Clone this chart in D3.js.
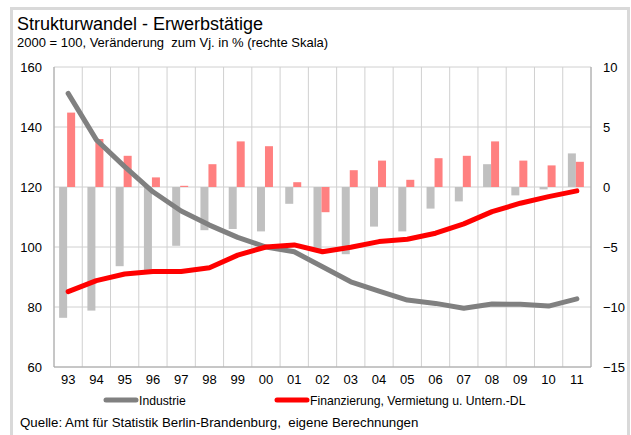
<!DOCTYPE html>
<html lang="de">
<head>
<meta charset="utf-8">
<script src="https://d3js.org/d3.v7.min.js"></script>
<style>
  body { margin: 0; background: #fff; }
  svg text { font-family: "Liberation Sans", Arial, sans-serif; fill: #000; white-space: pre; }
</style>
</head>
<body>
<div id="chart"></div>
<script>

var years = ["93","94","95","96","97","98","99","00","01","02","03","04","05","06","07","08","09","10","11"];

// Index 2000 = 100 (left axis)
var industrieIdx = [151.2,135.7,126.8,118.4,112,107.3,103.2,100,98.4,93.4,88.4,85.3,82.3,81.2,79.6,81,80.9,80.3,82.7];
var finanzIdx    = [85.1,88.8,91,91.8,91.8,93.1,97.3,100,100.7,98.4,99.9,101.8,102.6,104.6,107.7,111.8,114.6,116.8,118.7];

// change to previous year in % (right axis)
var industrieChg = [-10.9,-10.3,-6.6,-7.0,-4.9,-3.6,-3.5,-3.7,-1.4,-5.25,-5.6,-3.3,-3.7,-1.8,-1.2,1.9,-0.7,-0.2,2.8];
var finanzChg    = [6.2,4.0,2.6,0.8,0.1,1.9,3.8,3.4,0.4,-2.1,1.4,2.2,0.6,2.4,2.6,3.8,2.2,1.8,2.1];

var leftTicks = [60,80,100,120,140,160];
var rightTicks = [-15,-10,-5,0,5,10];

var w = 631, h = 435;
var pLeft = 54, pRight = 591, pTop = 67, pBottom = 367;

var svg = d3.select("#chart").append("svg")
  .attr("width", w).attr("height", h);

// outer frame
svg.append("rect")
  .attr("x", 11.5).attr("y", 8.5)
  .attr("width", 617).attr("height", 440)
  .attr("fill", "none")
  .attr("stroke", "#d9d9d9")
  .attr("stroke-width", 3);

svg.append("text").attr("x", 17).attr("y", 30)
  .style("font-size", "18px")
  .text("Strukturwandel - Erwerbstätige");
svg.append("text").attr("x", 17).attr("y", 47)
  .style("font-size", "13px")
  .text("2000 = 100, Veränderung  zum Vj. in % (rechte Skala)");

var x = d3.scaleBand().domain(years).range([pLeft, pRight]);
var yL = d3.scaleLinear().domain([60,160]).range([pBottom, pTop]);
var yR = d3.scaleLinear().domain([-15,10]).range([pBottom, pTop]);

// grid
svg.selectAll("line.hgrid").data(leftTicks).enter().append("line")
  .attr("x1", pLeft).attr("x2", pRight)
  .attr("y1", function(d){ return yL(d); }).attr("y2", function(d){ return yL(d); })
  .attr("stroke", "#d0d0d0").attr("stroke-width", 1);
svg.selectAll("line.vgrid").data(years.concat(["end"])).enter().append("line")
  .attr("x1", function(d,i){ return pLeft + i*x.step(); })
  .attr("x2", function(d,i){ return pLeft + i*x.step(); })
  .attr("y1", pTop).attr("y2", pBottom)
  .attr("stroke", "#d0d0d0").attr("stroke-width", 1);

// bars
var bw = 8;
svg.selectAll("rect.ind").data(industrieChg).enter().append("rect")
  .attr("x", function(d,i){ return x(years[i]) + x.bandwidth()/2 - bw - 1; })
  .attr("width", bw)
  .attr("y", function(d){ return Math.min(yR(d), yR(0)); })
  .attr("height", function(d){ return Math.abs(yR(d) - yR(0)); })
  .attr("fill", "#c0c0c0");
svg.selectAll("rect.fin").data(finanzChg).enter().append("rect")
  .attr("x", function(d,i){ return x(years[i]) + x.bandwidth()/2 - 1; })
  .attr("width", bw)
  .attr("y", function(d){ return Math.min(yR(d), yR(0)); })
  .attr("height", function(d){ return Math.abs(yR(d) - yR(0)); })
  .attr("fill", "#ff8080");

// lines
var line = d3.line()
  .x(function(d,i){ return x(years[i]) + x.bandwidth()/2; })
  .y(function(d){ return yL(d); });

svg.append("path").datum(industrieIdx)
  .attr("d", line).attr("fill", "none")
  .attr("stroke", "#808080").attr("stroke-width", 5)
  .attr("stroke-linejoin", "round").attr("stroke-linecap", "round");
svg.append("path").datum(finanzIdx)
  .attr("d", line).attr("fill", "none")
  .attr("stroke", "#ff0000").attr("stroke-width", 5)
  .attr("stroke-linejoin", "round").attr("stroke-linecap", "round");

// axes
var axL = svg.append("g").attr("transform", "translate(42,0)")
  .call(d3.axisLeft(yL).tickValues(leftTicks).tickSize(0).tickPadding(0));
var axR = svg.append("g").attr("transform", "translate(603,0)")
  .call(d3.axisRight(yR).tickValues(rightTicks).tickSize(0).tickPadding(0));
var axB = svg.append("g").attr("transform", "translate(0," + pBottom + ")")
  .call(d3.axisBottom(x).tickSize(0).tickPadding(8));
[axL, axR, axB].forEach(function(a){
  a.select(".domain").remove();
  a.selectAll("text").style("font-size", "13px").attr("fill", "#000")
    .style("font-family", "'Liberation Sans', Arial, sans-serif");
});

svg.append("line").attr("x1", pLeft).attr("x2", pLeft).attr("y1", pTop).attr("y2", pBottom)
  .attr("stroke", "#a6a6a6");
svg.append("line").attr("x1", pRight).attr("x2", pRight).attr("y1", pTop).attr("y2", pBottom)
  .attr("stroke", "#a6a6a6");
svg.append("line").attr("x1", pLeft).attr("x2", pRight).attr("y1", pBottom).attr("y2", pBottom)
  .attr("stroke", "#a6a6a6");

// legend
var legend = [
  {name: "Industrie", color: "#808080", x: 106},
  {name: "Finanzierung, Vermietung u. Untern.-DL", color: "#ff0000", x: 277}
];
var lg = svg.selectAll("g.legend").data(legend).enter().append("g")
  .attr("transform", function(d){ return "translate(" + d.x + ",400)"; });
lg.append("line").attr("x1", 0).attr("x2", 30).attr("y1", 0).attr("y2", 0)
  .attr("stroke", function(d){ return d.color; }).attr("stroke-width", 5)
  .attr("stroke-linecap", "round");
lg.append("text").attr("x", 33).attr("y", 4.5)
  .style("font-size", "12.2px")
  .text(function(d){ return d.name; });

svg.append("text").attr("x", 20).attr("y", 427)
  .style("font-size", "13.3px")
  .text("Quelle: Amt für Statistik Berlin-Brandenburg,  eigene Berechnungen");

</script>
</body>
</html>
